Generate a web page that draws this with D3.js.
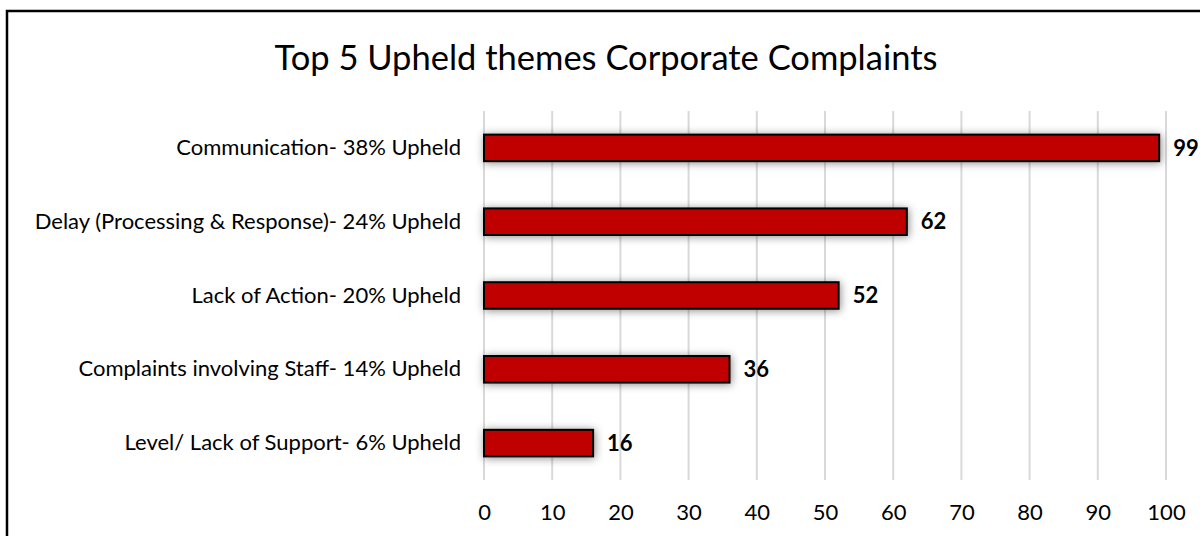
<!DOCTYPE html>
<html lang="en">
  <head>
    <meta charset="utf-8">
    <title>Top 5 Upheld themes</title>
    <script src="https://d3js.org/d3.v7.min.js"></script>
    <style>
      body { margin: 0; background: #fff; }
      text { font-family: Lato, "Noto Sans", sans-serif; }
    </style>
  </head>
  <body>
    <div id="chart"></div>
    <script>

// data
var categories = [
  "Communication- 38% Upheld",
  "Delay (Processing & Response)- 24% Upheld",
  "Lack of Action- 20% Upheld",
  "Complaints involving Staff- 14% Upheld",
  "Level/ Lack of Support- 6% Upheld"
];
var counts = [99, 62, 52, 36, 16];
var xTicks = [0, 10, 20, 30, 40, 50, 60, 70, 80, 90, 100];
var chartTitle = "Top 5 Upheld themes Corporate Complaints";

var w = 1200, h = 536;
var margin = {top: 111, right: 34, bottom: 56, left: 484};
var labelSize = 22;

var svg = d3.select("#chart").append("svg")
    .attr("width", w)
    .attr("height", h);

// shadow for the bars
var defs = svg.append("defs");
var f = defs.append("filter").attr("id", "shadow")
    .attr("x", "-10%").attr("y", "-60%").attr("width", "120%").attr("height", "220%");
f.append("feDropShadow")
    .attr("dx", 1).attr("dy", 1)
    .attr("stdDeviation", 4)
    .attr("flood-color", "#000")
    .attr("flood-opacity", 0.45);

// outer frame (runs off right and bottom)
svg.append("rect")
    .attr("x", 7).attr("y", 11)
    .attr("width", w + 20).attr("height", h + 20)
    .attr("fill", "none")
    .attr("stroke", "#000")
    .attr("stroke-width", 2.5);

var xScale = d3.scaleLinear()
    .domain([0, 100])
    .range([margin.left, w - margin.right]);

var yScale = d3.scaleBand()
    .domain(categories)
    .range([margin.top, h - margin.bottom])
    .paddingInner(0.64)
    .paddingOuter(0.32);

// gridlines
svg.append("g")
  .selectAll("line")
  .data(xTicks)
  .join("line")
    .attr("x1", d => xScale(d)).attr("x2", d => xScale(d))
    .attr("y1", margin.top).attr("y2", h - margin.bottom)
    .attr("stroke", "#d9d9d9")
    .attr("stroke-width", 2);

// bars
svg.append("g")
  .selectAll("rect")
  .data(counts)
  .join("rect")
    .attr("x", xScale(0))
    .attr("y", (d, i) => yScale(categories[i]))
    .attr("width", d => xScale(d) - xScale(0))
    .attr("height", yScale.bandwidth())
    .attr("fill", "#c00000")
    .attr("stroke", "#000")
    .attr("stroke-width", 2)
    .attr("filter", "url(#shadow)");

// value labels
svg.append("g")
  .selectAll("text")
  .data(counts)
  .join("text")
    .attr("x", d => xScale(d) + 14)
    .attr("y", (d, i) => yScale(categories[i]) + yScale.bandwidth() / 2)
    .attr("dy", "0.35em")
    .attr("font-size", labelSize)
    .attr("font-weight", "bold")
    .attr("fill", "#000")
    .text(d => d);

// y axis labels
var yAxis = d3.axisLeft(yScale).tickSize(0).tickPadding(23);
svg.append("g")
    .attr("transform", `translate(${margin.left},0)`)
    .call(yAxis)
    .call(g => g.select(".domain").remove())
    .selectAll("text")
    .attr("font-size", labelSize)
    .attr("font-family", "Lato, 'Noto Sans', sans-serif")
    .attr("fill", "#000");

// x axis labels
var xAxis = d3.axisBottom(xScale).tickValues(xTicks).tickSize(0).tickPadding(24);
svg.append("g")
    .attr("transform", `translate(0,${h - margin.bottom})`)
    .call(xAxis)
    .call(g => g.select(".domain").remove())
    .selectAll("text")
    .attr("font-size", labelSize)
    .attr("font-family", "Lato, 'Noto Sans', sans-serif")
    .attr("fill", "#000");

// title
svg.append("text")
    .attr("x", 606)
    .attr("y", 70)
    .attr("text-anchor", "middle")
    .attr("font-size", 34.5)
    .attr("fill", "#000")
    .text(chartTitle);

    </script>
  </body>
</html>
